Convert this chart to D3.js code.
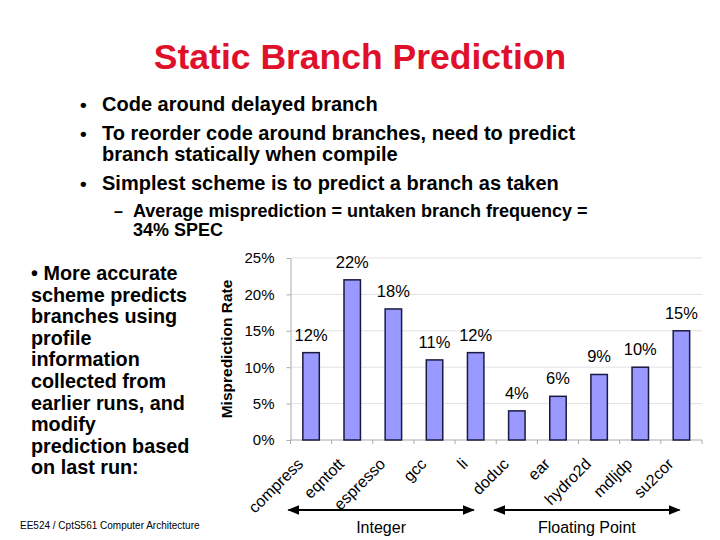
<!DOCTYPE html>
<html><head><meta charset="utf-8">
<script src="https://cdn.jsdelivr.net/npm/d3@7"></script>
<style>body{margin:0;background:#fff}svg{display:block}text{font-family:"Liberation Sans",Arial,sans-serif}</style>
</head><body>
<svg id="c" width="720" height="540"></svg>
<script>
const categories = ["compress","eqntott","espresso","gcc","li","doduc","ear","hydro2d","mdljdp","su2cor"];
const values = [12, 22, 18, 11, 12, 4, 6, 9, 10, 15];
const yTicks = [0, 5, 10, 15, 20, 25];
const groups = [{name:"Integer", from:"compress", to:"li"}, {name:"Floating Point", from:"doduc", to:"su2cor"}];
const titleText = "Static Branch Prediction";
const bullets = ["Code around delayed branch", "To reorder code around branches, need to predict|branch statically when compile", "Simplest scheme is to predict a branch as taken"];
const subBullet = ["Average misprediction = untaken branch frequency =", "34% SPEC"];
const sideText = ["• More accurate","scheme predicts","branches using","profile","information","collected from","earlier runs, and","modify","prediction based","on last run:"];
const footer = "EE524 / CptS561 Computer Architecture";
const yTitle = "Misprediction Rate";

const svg = d3.select("#c");
svg.append("text").attr("x",360).attr("y",69).attr("text-anchor","middle")
  .attr("font-size",35.5).attr("font-weight","bold").attr("fill","#e0102a").text(titleText);

let by = 111;
bullets.forEach((b)=>{
  const lines = b.split("|");
  svg.append("text").attr("x",80).attr("y",by).attr("font-size",19).attr("font-weight","bold").text("•");
  lines.forEach((l,j)=>{
    svg.append("text").attr("x",102).attr("y",by).attr("font-size",20).attr("font-weight","bold").text(l);
    by += (j < lines.length-1) ? 21 : 29;
  });
});
svg.append("text").attr("x",114).attr("y",217).attr("font-size",16).attr("font-weight","bold").text("–");
subBullet.forEach((l,i)=>svg.append("text").attr("x",133).attr("y",217+i*19).attr("font-size",18).attr("font-weight","bold").text(l));

sideText.forEach((l,i)=>svg.append("text").attr("x",31).attr("y",280+i*21.6).attr("font-size",19.8).attr("font-weight","bold").text(l));
svg.append("text").attr("x",20).attr("y",529).attr("font-size",10).text(footer);

// chart
const x0 = 290.5, x1 = 702;
const x = d3.scaleBand().domain(categories).range([x0,x1]).paddingInner(0.6).paddingOuter(0.3);
const y = d3.scaleLinear().domain([0,25]).range([440,258]);
const g = svg.append("g");
g.selectAll(".grid").data(yTicks.slice(1)).join("line")
  .attr("x1",x0).attr("x2",x1).attr("y1",d=>y(d)).attr("y2",d=>y(d)).attr("stroke","#e2e2e2");
const yAxis = g.append("g").attr("transform",`translate(${x0},0)`)
  .call(d3.axisLeft(y).tickValues(yTicks).tickFormat(d=>d+"%").tickSize(4).tickSizeOuter(0).tickPadding(12));
yAxis.select(".domain").attr("stroke","#aaa");
yAxis.selectAll(".tick line").attr("stroke","#aaa");
yAxis.selectAll("text").attr("font-size",15).attr("fill","#000").attr("font-family",'"Liberation Sans",Arial,sans-serif');

const step = x.step();
const boundary = c => x(c) - step*x.paddingInner()/2;
const bounds = categories.map(boundary).concat([x1]);
g.append("line").attr("x1",x0).attr("x2",x1).attr("y1",y(0)).attr("y2",y(0)).attr("stroke","#aaa");
g.selectAll(".bt").data(bounds).join("line").attr("x1",d=>d).attr("x2",d=>d)
  .attr("y1",y(0)).attr("y2",y(0)+4).attr("stroke","#aaa");

g.selectAll(".bar").data(values).join("rect")
  .attr("x",(d,i)=>x(categories[i])).attr("width",x.bandwidth())
  .attr("y",d=>y(d)).attr("height",d=>y(0)-y(d))
  .attr("fill","#9999ff").attr("stroke","#1a1a40").attr("stroke-width",1.5);
g.selectAll(".vl").data(values).join("text")
  .attr("x",(d,i)=>x(categories[i])+x.bandwidth()/2).attr("y",d=>y(d)-12)
  .attr("text-anchor","middle").attr("font-size",16.5).text(d=>d+"%");

g.selectAll(".xl").data(categories).join("text")
  .attr("transform",c=>`translate(${x(c)+x.bandwidth()/2-7},${y(0)+25}) rotate(-45)`)
  .attr("text-anchor","end").attr("font-size",16).text(c=>c);

svg.append("text").attr("transform",`translate(232,${y(12.5)}) rotate(-90)`)
  .attr("text-anchor","middle").attr("font-size",15.5).attr("font-weight","bold").text(yTitle);

// group arrows
const defs = svg.append("defs");
defs.append("marker").attr("id","ah").attr("viewBox","0 0 10 10").attr("refX",9).attr("refY",5)
  .attr("markerWidth",6).attr("markerHeight",6).attr("orient","auto-start-reverse")
  .append("path").attr("d","M0,1 L10,5 L0,9 Z").attr("fill","#000");
groups.forEach(gr=>{
  const a = boundary(gr.from) - 2, b = x(gr.to)+x.bandwidth()/2 - 2;
  svg.append("line").attr("x1",a).attr("x2",b).attr("y1",510).attr("y2",510)
    .attr("stroke","#000").attr("stroke-width",2)
    .attr("marker-start","url(#ah)").attr("marker-end","url(#ah)");
  svg.append("text").attr("x",(a+b)/2).attr("y",533).attr("text-anchor","middle").attr("font-size",16).text(gr.name);
});
</script></body></html>
